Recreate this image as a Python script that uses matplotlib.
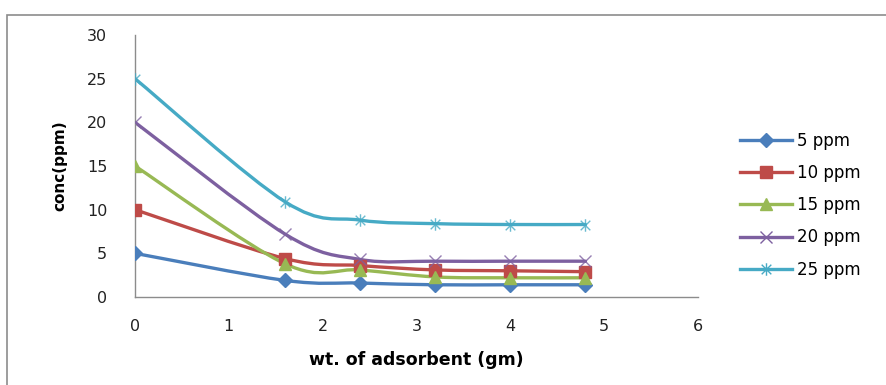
import numpy as np
import matplotlib
matplotlib.use("Agg")
import matplotlib.pyplot as plt
from matplotlib.path import Path
from matplotlib.patches import PathPatch, Rectangle
from matplotlib.lines import Line2D

# datos
peso = [0, 1.6, 2.4, 3.2, 4, 4.8]
c5 = [5, 1.9, 1.6, 1.4, 1.4, 1.4]
c10 = [10, 4.4, 3.6, 3.1, 3.0, 2.9]
c15 = [15, 3.8, 3.1, 2.3, 2.2, 2.2]
c20 = [20, 7.2, 4.3, 4.1, 4.1, 4.1]
c25 = [25, 10.9, 8.8, 8.4, 8.3, 8.3]
etiquetas = ["5 ppm", "10 ppm", "15 ppm", "20 ppm", "25 ppm"]

colores = ["#4A7EBB", "#BE4B48", "#98B954", "#7D60A0", "#46AAC5"]

# marcador estrella de excel: x con linea vertical
estrella = Path([(-1, -1), (1, 1), (-1, 1), (1, -1), (0, -1.3), (0, 1.3)],
                [Path.MOVETO, Path.LINETO, Path.MOVETO, Path.LINETO, Path.MOVETO, Path.LINETO])
marcadores = [("D", 7, True), ("s", 9, True), ("^", 9, True), ("x", 9, False), (estrella, 9, False)]


def curva_suave(x, y):
    # segmentos bezier tipo excel (catmull-rom)
    pts = np.column_stack([x, y]).astype(float)
    verts = [pts[0]]
    codes = [Path.MOVETO]
    n = len(pts)
    for i in range(n - 1):
        p0 = pts[i - 1] if i > 0 else pts[i]
        p1 = pts[i]
        p2 = pts[i + 1]
        p3 = pts[i + 2] if i + 2 < n else pts[i + 1]
        verts += [p1 + (p2 - p0) / 6, p2 - (p3 - p1) / 6, p2]
        codes += [Path.CURVE4] * 3
    return Path(verts, codes)


fig = plt.figure(figsize=(8.86, 3.85), dpi=100)
fig.patches.append(Rectangle((7 / 886, -0.1), 1.2, 1 - 15 / 385 + 0.1, transform=fig.transFigure,
                             fill=False, edgecolor="#8c8c8c", linewidth=1.2))
ax = fig.add_axes([135 / 886, 1 - 297 / 385, (698 - 135) / 886, (297 - 35) / 385])

series = [c5, c10, c15, c20, c25]
handles = []
for serie, col, (m, ms, lleno), lab in zip(series, colores, marcadores, etiquetas):
    ax.add_patch(PathPatch(curva_suave(peso, serie), fill=False, edgecolor=col, linewidth=2.4,
                           capstyle="round", joinstyle="round", zorder=2))
    if lleno:
        ax.plot(peso, serie, linestyle="none", marker=m, markersize=ms, color=col, zorder=3)
    else:
        ax.plot(peso, serie, linestyle="none", marker=m, markersize=ms, markeredgecolor=col,
                markerfacecolor="none", markeredgewidth=1.0, alpha=0.8, zorder=3)
    handles.append(Line2D([], [], color=col, linewidth=2.4, marker=m, markersize=ms,
                          markerfacecolor=col if lleno else "none", markeredgecolor=col,
                          markeredgewidth=1.0, label=lab))

ax.set_xlim(0, 6)
ax.set_ylim(0, 30)
ax.set_xticks(range(0, 7))
ax.set_yticks(range(0, 31, 5))
for lado in ["top", "right"]:
    ax.spines[lado].set_visible(False)
for lado in ["left", "bottom"]:
    ax.spines[lado].set_color("#8c8c8c")
    ax.spines[lado].set_linewidth(1.0)
ax.tick_params(length=0, labelsize=11.5, colors="#222222", pad=16)
ax.tick_params(axis="y", pad=20)
ax.set_xlabel("wt. of adsorbent (gm)", fontsize=12.5, fontweight="bold", labelpad=12)
ax.set_ylabel("conc(ppm)", fontsize=11, fontweight="bold", labelpad=14, family="Liberation Sans Narrow")

ax.legend(handles=handles, loc="upper left", bbox_to_anchor=(740 / 886, 1 - 132 / 385),
          bbox_transform=fig.transFigure, frameon=False, borderpad=0, borderaxespad=0,
          fontsize=12, handlelength=3.1, labelspacing=0.85, handletextpad=0.3)

fig.savefig("out.png", dpi=100)
